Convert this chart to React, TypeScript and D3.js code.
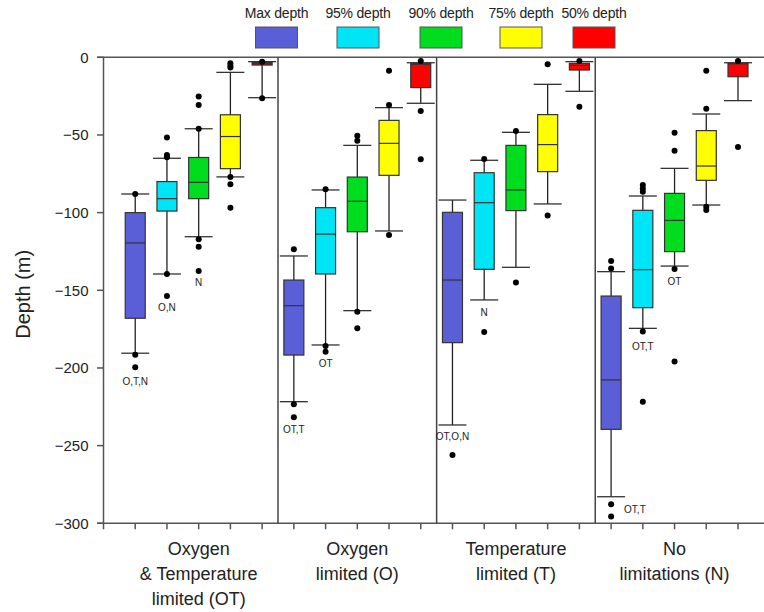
import React, { useRef, useEffect } from "react";
import * as d3 from "d3";

// groups along the x axis
const groupLabels = [
  ["Oxygen", "& Temperature", "limited (OT)"],
  ["Oxygen", "limited (O)"],
  ["Temperature", "limited (T)"],
  ["No", "limitations (N)"],
];

const seriesNames = ["Max depth", "95% depth", "90% depth", "75% depth", "50% depth"];
const seriesColors = ["#5a5fd8", "#00e5f5", "#00dc1e", "#ffff00", "#ff0000"];

// each row: [upper whisker, box top, median, box bottom, lower whisker]
const otBoxes = [
  [-88, -100, -119.5, -168, -190.5],
  [-65, -80, -91, -99, -139.5],
  [-46, -64.5, -80.5, -91, -115.5],
  [-9.7, -37, -51, -71.7, -77],
  [-2.8, -3.4, -4.2, -5, -26],
];
const oBoxes = [
  [-127.9, -143.4, -159.9, -191.7, -221.7],
  [-85.4, -96.8, -113.8, -139.5, -185.2],
  [-56.7, -77.1, -92.7, -112.3, -163.1],
  [-32.4, -40.6, -55.4, -76, -111.8],
  [-3.5, -3.9, -4.5, -19.5, -29.6],
];
const tBoxes = [
  [-91.9, -99.8, -143.4, -183.7, -236.7],
  [-66.3, -74.3, -93.6, -136.5, -156.2],
  [-48.3, -56.7, -85.4, -98.7, -135.2],
  [-17.4, -36.9, -56.2, -73.6, -94.4],
  [-2.8, -3.9, -5.2, -8.2, -21.9],
];
const nBoxes = [
  [-138, -153.7, -207.7, -239.5, -282.9],
  [-89.3, -98.5, -136.7, -161.2, -174.5],
  [-71.5, -87.6, -105, -125.1, -134.4],
  [-36.5, -47.2, -70, -79.2, -95.1],
  [-3.5, -3.9, -4.2, -12.5, -27.9],
];

// outlier dots, one list per series
const otOutliers = [
  [-88, -191.5, -199.6],
  [-51.7, -62.9, -64.4, -139.5, -153.7],
  [-25.3, -30.7, -46, -117.2, -121.9, -137.6],
  [-3.9, -5.4, -6.5, -77.1, -81.8, -96.8],
  [-2.8, -26.4],
];
const oOutliers = [
  [-123.6, -223.4, -231.8],
  [-85, -185.9, -189.5],
  [-50.5, -53.7, -163.8, -174.5],
  [-8.6, -30.7, -114.4],
  [-2.4, -34.6, -65.7],
];
const tOutliers = [
  [-256],
  [-65.5, -176.8],
  [-47.4, -144.9],
  [-4.5, -101.9],
  [-2.4, -31.8],
];
const nOutliers = [
  [-131.1, -135.9, -287.8, -295.7],
  [-82.2, -84.4, -86.5, -176.6, -221.7],
  [-48.5, -60.1, -136.3, -195.9],
  [-8.6, -33.1, -96.2, -98.3],
  [-2.4, -57.7],
];

// significance notes under the boxes
const noteTexts = ["O,T,N", "O,N", "N", "OT,T", "OT", "OT,O,N", "N", "OT,T", "OT,T", "OT"];
const noteGroups = [0, 0, 0, 1, 1, 2, 2, 3, 3, 3];
const noteSeries = [0, 1, 2, 0, 1, 0, 1, 0, 1, 2];
const noteDepths = [-208.8, -161.2, -144.9, -239.5, -197, -244.3, -164, -290.8, -186.3, -144.5];

const yTicks = [0, -50, -100, -150, -200, -250, -300];

const allBoxes = [otBoxes, oBoxes, tBoxes, nBoxes];
const allOutliers = [otOutliers, oOutliers, tOutliers, nOutliers];

function App() {
  const svgRef = useRef(null);
  const width = 764;
  const height = 612;

  useEffect(() => {
    const svg = d3.select(svgRef.current);
    svg.selectAll("*").remove();

    const left = 103.5, right = 764, top = 57.3, bottom = 523.3;
    const nSeries = seriesNames.length;
    const nSlots = groupLabels.length * nSeries;

    const x = d3.scaleLinear().domain([0, nSlots]).range([left, 738]);
    const y = d3.scaleLinear().domain([-300, 0]).range([bottom, top]);
    const font = "'Liberation Sans', Arial, sans-serif";
    const boxW = 20, capW = 28;

    // frame: left axis, bottom axis, top line
    const axisColor = "#555";
    svg.append("line").attr("x1", left).attr("x2", left).attr("y1", top).attr("y2", bottom)
      .attr("stroke", axisColor).attr("stroke-width", 1.5);
    svg.append("line").attr("x1", 97).attr("x2", right).attr("y1", bottom).attr("y2", bottom)
      .attr("stroke", axisColor).attr("stroke-width", 1.5);
    svg.append("line").attr("x1", 97).attr("x2", right).attr("y1", top).attr("y2", top)
      .attr("stroke", axisColor).attr("stroke-width", 1.5);

    // y ticks
    svg.selectAll(".ytick").data(yTicks).enter().append("line")
      .attr("x1", 97).attr("x2", left)
      .attr("y1", (d) => y(d)).attr("y2", (d) => y(d))
      .attr("stroke", axisColor).attr("stroke-width", 1.5);
    svg.selectAll(".ylab").data(yTicks).enter().append("text")
      .attr("x", 88.5).attr("y", (d) => y(d))
      .attr("text-anchor", "end").attr("dominant-baseline", "central")
      .style("font-family", font).style("font-size", "15px").style("fill", "#222")
      .text((d) => (d < 0 ? "\u2212" + Math.abs(d) : String(d)));

    svg.append("text")
      .attr("transform", `translate(23,${(top + bottom) / 2 + 4}) rotate(-90)`)
      .attr("text-anchor", "middle").attr("dominant-baseline", "central")
      .style("font-family", font).style("font-size", "20px").style("fill", "#222")
      .text("Depth (m)");

    // x ticks at every slot
    svg.selectAll(".xtick").data(d3.range(0, nSlots + 1)).enter().append("line")
      .attr("x1", (d) => x(d)).attr("x2", (d) => x(d))
      .attr("y1", bottom).attr("y2", bottom + 6)
      .attr("stroke", axisColor).attr("stroke-width", 1.5);

    // group dividers
    svg.selectAll(".divider").data(d3.range(1, groupLabels.length)).enter().append("line")
      .attr("x1", (d) => x(d * nSeries + 0.5)).attr("x2", (d) => x(d * nSeries + 0.5))
      .attr("y1", top).attr("y2", bottom)
      .attr("stroke", "#444").attr("stroke-width", 1.5);

    // group labels
    groupLabels.forEach((lines, g) => {
      const cx = x(g * nSeries + (nSeries + 1) / 2);
      lines.forEach((line, i) => {
        svg.append("text")
          .attr("x", cx).attr("y", 555 + i * 25)
          .attr("text-anchor", "middle")
          .style("font-family", font).style("font-size", "18px").style("fill", "#222")
          .text(line);
      });
    });

    // boxes
    allBoxes.forEach((boxes, g) => {
      boxes.forEach((b, s) => {
        const cx = x(g * nSeries + s + 1);
        const [hi, q3, med, q1, lo] = b;
        const gEl = svg.append("g");
        gEl.append("line").attr("x1", cx).attr("x2", cx).attr("y1", y(hi)).attr("y2", y(lo))
          .attr("stroke", "#222").attr("stroke-width", 1.3);
        [hi, lo].forEach((v) => {
          gEl.append("line").attr("x1", cx - capW / 2).attr("x2", cx + capW / 2)
            .attr("y1", y(v)).attr("y2", y(v))
            .attr("stroke", "#333").attr("stroke-width", 1.3);
        });
        gEl.append("rect")
          .attr("x", cx - boxW / 2).attr("width", boxW)
          .attr("y", y(q3)).attr("height", Math.max(1, y(q1) - y(q3)))
          .attr("fill", seriesColors[s]).attr("stroke", "#333").attr("stroke-width", 1.2);
        gEl.append("line").attr("x1", cx - boxW / 2).attr("x2", cx + boxW / 2)
          .attr("y1", y(med)).attr("y2", y(med))
          .attr("stroke", "#333").attr("stroke-width", 1.2);
        gEl.selectAll("circle").data(allOutliers[g][s]).enter().append("circle")
          .attr("cx", cx).attr("cy", (d) => y(d)).attr("r", 3)
          .attr("fill", "#000");
      });
    });

    // notes
    noteTexts.forEach((t, i) => {
      const cx = x(noteGroups[i] * nSeries + noteSeries[i] + 1);
      const side = i === 7;
      svg.append("text")
        .attr("x", side ? cx + 13 : cx).attr("y", y(noteDepths[i]))
        .attr("text-anchor", side ? "start" : "middle").attr("dominant-baseline", "central")
        .style("font-family", font).style("font-size", "10px").style("fill", "#222")
        .text(t);
    });

    // legend
    const legendCenters = [276.5, 358, 441, 521, 594];
    seriesNames.forEach((name, s) => {
      const cx = legendCenters[s];
      svg.append("text")
        .attr("x", cx).attr("y", 18)
        .attr("text-anchor", "middle")
        .style("font-family", font).style("font-size", "14px")
        .style("letter-spacing", "-0.2px").style("fill", "#222")
        .text(name);
      svg.append("rect")
        .attr("x", cx - 21).attr("y", 27).attr("width", 42).attr("height", 21)
        .attr("fill", seriesColors[s]).attr("stroke", "#555").attr("stroke-width", 1);
    });
  }, []);

  return (
    <svg
      ref={svgRef}
      width={width}
      height={height}
      style={{ position: "absolute", left: 0, top: 0, background: "#fff" }}
    ></svg>
  );
}

export default App;
